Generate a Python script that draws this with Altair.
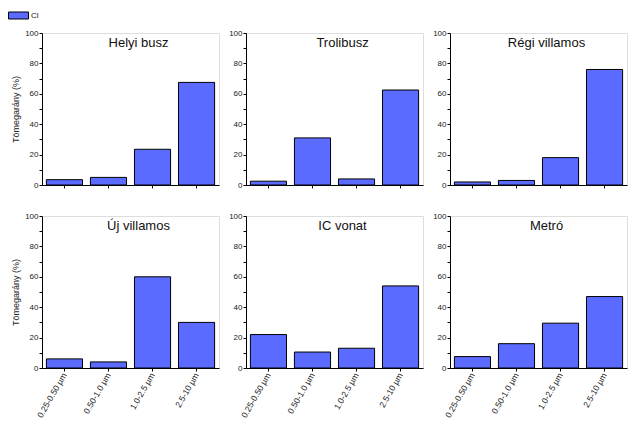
import altair as alt
import pandas as pd

# Particle size fractions (x categories)
sizes = ["0.25-0.50 µm", "0.50-1.0 µm", "1.0-2.5 µm", "2.5-10 µm"]

# Chloride mass fraction (%) per size fraction, one list per vehicle type
helyi_busz = [3.5, 5.0, 23.5, 67.5]
trolibusz = [2.5, 31.0, 4.0, 62.5]
regi_villamos = [2.0, 3.0, 18.0, 76.0]
uj_villamos = [6.0, 4.0, 60.0, 30.0]
ic_vonat = [22.0, 10.5, 13.0, 54.0]
metro = [7.5, 16.0, 29.5, 47.0]

panels = [
    ("Helyi busz", helyi_busz),
    ("Trolibusz", trolibusz),
    ("Régi villamos", regi_villamos),
    ("Új villamos", uj_villamos),
    ("IC vonat", ic_vonat),
    ("Metró", metro),
]

ion = "Cl"
fill = "#5b6bff"
W, H = 177, 152
FONT = "Liberation Sans"

y_ticks = list(range(0, 101, 10))


def panel(name, values, row, col):
    df = pd.DataFrame({"size": sizes, "value": values, "ion": ion})
    bottom = row == 1
    x_axis = alt.Axis(
        title=None,
        labels=bottom,
        labelAngle=-60,
        labelFontSize=8.5,
        labelFont=FONT,
        labelColor="#222",
        ticks=True,
        tickSize=3,
        tickColor="black",
        domainColor="black",
        labelPadding=2,
    )
    y_axis = alt.Axis(
        title="Tömegarány (%)" if col == 0 else None,
        titleFontSize=9,
        titleFont=FONT,
        titleFontWeight="normal",
        titleColor="#222",
        titlePadding=4,
        values=y_ticks,
        labelExpr="datum.value % 20 == 0 ? datum.label : ''",
        labelFontSize=8,
        labelFont=FONT,
        labelColor="#222",
        tickSize=3,
        tickColor="black",
        domainColor="black",
        grid=False,
        labelPadding=1,
    )
    bars = alt.Chart(df).mark_bar(stroke="black", strokeWidth=1).encode(
        x=alt.X(
            "size:N",
            sort=sizes,
            axis=x_axis,
            scale=alt.Scale(paddingInner=0.18, paddingOuter=0.1),
        ),
        y=alt.Y("value:Q", scale=alt.Scale(domain=[0, 100], nice=False), axis=y_axis),
        color=alt.Color(
            "ion:N",
            scale=alt.Scale(domain=[ion], range=[fill]),
            legend=alt.Legend(
                title=None,
                orient="none",
                legendX=-34,
                legendY=-28,
                symbolType="M-1,-0.35L1,-0.35L1,0.35L-1,0.35Z",
                symbolSize=400,
                symbolStrokeColor="black",
                symbolStrokeWidth=1,
                symbolOpacity=1,
                labelFontSize=8,
                labelFont=FONT,
                labelColor="#222",
                labelOffset=2,
                padding=0,
            ),
        ),
    )
    # panel heading, drawn once from a single-row table
    label = alt.Chart(pd.DataFrame({"name": [name]})).mark_text(
        font=FONT, fontSize=13, fontWeight="normal", baseline="top", align="center", color="#111"
    ).encode(x=alt.value(W / 2 + 8), y=alt.value(4), text="name:N")
    return alt.layer(bars, label).properties(width=W, height=H)


rows = []
for r in range(2):
    rows.append(
        alt.hconcat(
            *[panel(n, v, r, c) for c, (n, v) in enumerate(panels[r * 3:(r + 1) * 3])],
            spacing=8,
        )
    )

chart = (
    alt.vconcat(*rows, spacing=21)
    .properties(padding={"left": 8, "top": 5, "right": 2, "bottom": 2})
    .configure_view(stroke=None)
    .configure(background="white")
)

chart.save("out.html", embed_options={"renderer": "svg", "actions": False})
